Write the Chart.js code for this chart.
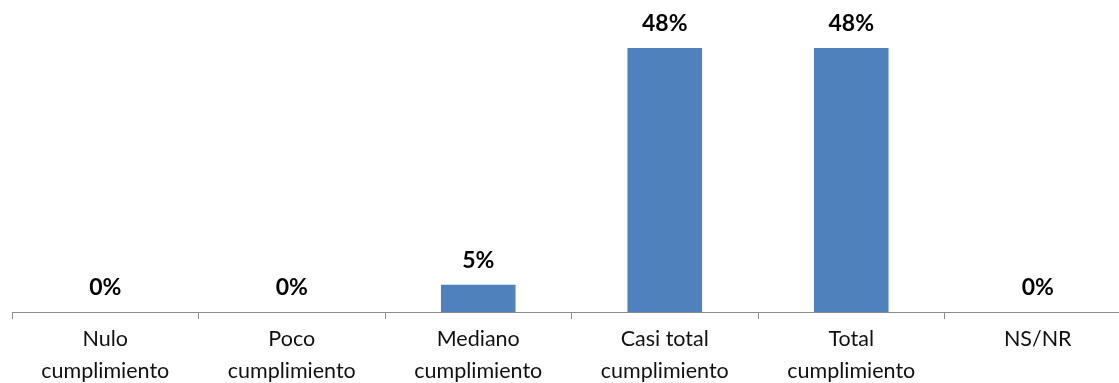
<!DOCTYPE html>
<html lang="es">
<head>
<meta charset="UTF-8">
<title>Cumplimiento</title>
<style>
  html, body { margin: 0; padding: 0; background: #fff; overflow: hidden; }
  #wrap { position: relative; width: 1132px; height: 391px; }
</style>
</head>
<body>
<div id="wrap"><canvas id="chart"></canvas></div>
<script src="https://cdn.jsdelivr.net/npm/chart.js"></script>
<script>
// Datos del gráfico
const categorias = [
  ['Nulo', 'cumplimiento'],
  ['Poco', 'cumplimiento'],
  ['Mediano', 'cumplimiento'],
  ['Casi total', 'cumplimiento'],
  ['Total', 'cumplimiento'],
  ['NS/NR']
];
const porcentajes = [0, 0, 5, 48, 48, 0];

// etiquetas de valor encima de cada barra
const etiquetasValor = {
  id: 'etiquetasValor',
  afterDatasetsDraw(chart) {
    const ctx = chart.ctx;
    const meta = chart.getDatasetMeta(0);
    ctx.save();
    ctx.font = 'bold 23px Lato, "Open Sans", sans-serif';
    ctx.fillStyle = '#000';
    ctx.textAlign = 'center';
    ctx.textBaseline = 'alphabetic';
    meta.data.forEach((bar, i) => {
      ctx.fillText(porcentajes[i] + '%', bar.x, bar.y - 17);
    });
    ctx.restore();
  }
};

new Chart(document.getElementById('chart'), {
  type: 'bar',
  data: {
    labels: categorias,
    datasets: [{
      data: porcentajes,
      backgroundColor: '#4F81BD',
      barPercentage: 0.4,
      categoryPercentage: 1
    }]
  },
  options: {
    responsive: true,
    maintainAspectRatio: false,
    animation: false,
    layout: { padding: { left: 12, right: 1, top: 0, bottom: 0 } },
    plugins: {
      legend: { display: false },
      tooltip: { enabled: false }
    },
    scales: {
      x: {
        offset: true,
        grid: {
          offset: true,
          drawOnChartArea: false,
          drawTicks: true,
          tickLength: 7,
          color: '#8c8c8c',
          lineWidth: 1
        },
        border: { display: true, color: '#8c8c8c', width: 1 },
        ticks: {
          padding: 3,
          color: '#111',
          maxRotation: 0,
          autoSkip: false,
          font: { family: 'Lato, "Open Sans", sans-serif', size: 21.5, lineHeight: 1.53 }
        }
      },
      y: {
        display: false,
        min: 0,
        max: 56.7
      }
    }
  },
  plugins: [etiquetasValor]
});
</script>
</body>
</html>
